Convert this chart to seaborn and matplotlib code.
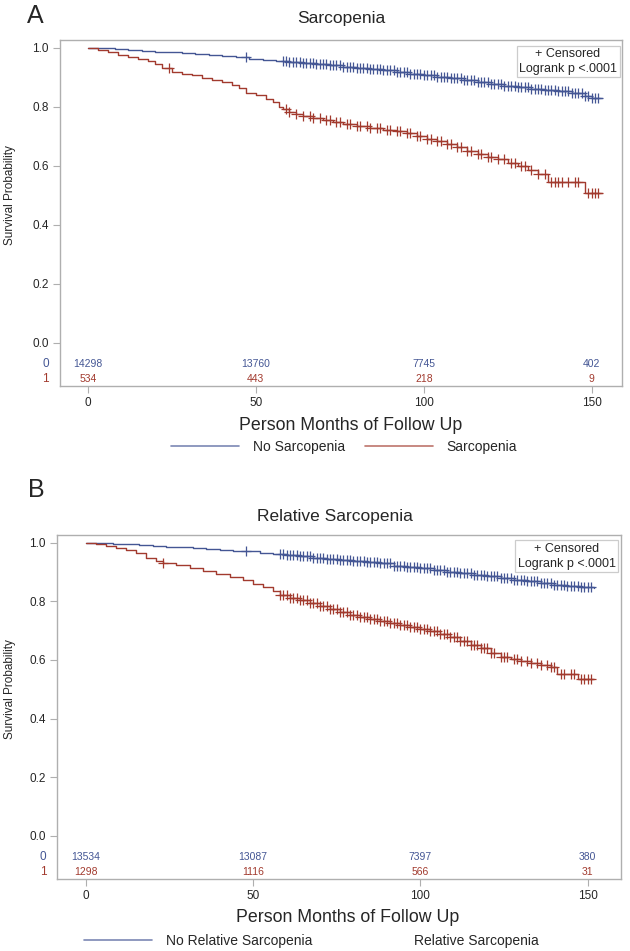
import matplotlib
matplotlib.use("Agg")
import matplotlib.pyplot as plt
import matplotlib.transforms as mtrans
from matplotlib.lines import Line2D
import numpy as np
import seaborn as sns

sns.set_style("white")
plt.rcParams["font.family"] = ["Liberation Sans", "DejaVu Sans"]

BLUE = "#445694"
RED = "#A23A2E"
EDGE = "#AFAFAF"

# ---- panel A : Sarcopenia (Kaplan-Meier steps)
a_no_t = [0, 4, 8, 12, 16, 20, 24, 28, 32, 36, 40, 44, 48, 52, 56, 60, 64, 68, 72, 76,
          80, 84, 88, 92, 96, 100, 104, 108, 112, 116, 120, 124, 128, 132, 136, 140,
          144, 148, 150, 153]
a_no_s = [1.0, 0.999, 0.996, 0.993, 0.990, 0.987, 0.984, 0.981, 0.978, 0.975, 0.971,
          0.967, 0.963, 0.959, 0.955, 0.951, 0.948, 0.944, 0.940, 0.936, 0.932, 0.928,
          0.923, 0.918, 0.912, 0.907, 0.902, 0.896, 0.890, 0.884, 0.877, 0.871, 0.866,
          0.861, 0.857, 0.853, 0.845, 0.836, 0.831, 0.831]
a_sa_t = [0, 3, 6, 9, 12, 15, 18, 20, 22, 25, 28, 31, 34, 37, 40, 43, 45, 47, 50, 53,
          55, 57, 58, 60, 62, 64, 67, 70, 73, 76, 80, 84, 88, 92, 95, 98, 101, 104, 107,
          110, 113, 116, 119, 122, 125, 128, 131, 134, 137, 148, 153]
a_sa_s = [1.0, 0.993, 0.985, 0.975, 0.968, 0.962, 0.955, 0.946, 0.932, 0.918, 0.912,
          0.907, 0.898, 0.890, 0.882, 0.872, 0.864, 0.848, 0.838, 0.826, 0.815, 0.800,
          0.792, 0.781, 0.775, 0.768, 0.762, 0.756, 0.748, 0.742, 0.735, 0.728, 0.722,
          0.716, 0.710, 0.700, 0.690, 0.684, 0.672, 0.662, 0.650, 0.640, 0.630, 0.622,
          0.610, 0.598, 0.585, 0.572, 0.545, 0.508, 0.508]
a_no_cens = [47, 58, 59, 60, 61, 62, 63, 64, 65, 66, 67, 68, 69, 70, 71, 72, 73, 74, 75,
             76, 77, 78, 79, 80, 81, 82, 83, 84, 85, 86, 87, 88, 89, 90, 91, 92, 93, 94,
             95, 96, 97, 98, 99, 100, 101, 102, 103, 104, 105, 106, 107, 108, 109, 110,
             111, 112, 113, 114, 115, 116, 117, 118, 119, 120, 121, 122, 123, 124, 125,
             126, 127, 128, 129, 130, 131, 132, 133, 134, 135, 136, 137, 138, 139, 140,
             141, 142, 143, 144, 145, 146, 147, 148, 149, 150, 151, 152]
a_sa_cens = [24, 59, 60, 62, 64, 66, 67, 69, 71, 72, 74, 75, 77, 78, 80, 81, 83, 84, 86,
             87, 89, 90, 92, 93, 95, 96, 98, 99, 101, 102, 104, 105, 107, 108, 110, 111,
             113, 114, 116, 117, 119, 120, 122, 124, 126, 127, 129, 130, 132, 134, 136,
             138, 139, 140, 141, 143, 145, 146, 149, 150, 151, 152]
a_risk_no = [14298, 13760, 7745, 402]
a_risk_sa = [534, 443, 218, 9]

# ---- panel B : Relative Sarcopenia
b_no_t = [0, 4, 8, 12, 16, 20, 24, 28, 32, 36, 40, 44, 48, 52, 56, 60, 64, 68, 72, 76,
          80, 84, 88, 92, 96, 100, 104, 108, 112, 116, 120, 124, 128, 132, 136, 140,
          144, 148, 152]
b_no_s = [1.0, 0.999, 0.997, 0.994, 0.991, 0.989, 0.986, 0.984, 0.981, 0.979, 0.976,
          0.973, 0.970, 0.966, 0.962, 0.958, 0.953, 0.949, 0.945, 0.941, 0.937, 0.933,
          0.929, 0.921, 0.917, 0.912, 0.907, 0.901, 0.896, 0.891, 0.886, 0.880, 0.874,
          0.868, 0.862, 0.857, 0.852, 0.848, 0.846]
b_sa_t = [0, 3, 6, 9, 12, 15, 18, 21, 23, 27, 31, 35, 39, 43, 47, 50, 53, 56, 58, 61,
          64, 67, 70, 73, 76, 79, 82, 85, 88, 91, 94, 97, 100, 103, 106, 109, 112, 115,
          118, 121, 124, 127, 130, 133, 136, 139, 141, 147, 152]
b_sa_s = [1.0, 0.995, 0.990, 0.982, 0.975, 0.963, 0.948, 0.938, 0.930, 0.922, 0.912,
          0.903, 0.893, 0.883, 0.872, 0.860, 0.848, 0.835, 0.822, 0.812, 0.803, 0.793,
          0.783, 0.773, 0.763, 0.754, 0.747, 0.740, 0.733, 0.726, 0.720, 0.713, 0.706,
          0.698, 0.688, 0.678, 0.665, 0.652, 0.640, 0.625, 0.610, 0.602, 0.595, 0.588,
          0.582, 0.576, 0.553, 0.536, 0.536]
b_no_cens = [48, 58, 59, 60, 61, 62, 63, 64, 65, 66, 67, 68, 69, 70, 71, 72, 73, 74, 75,
             76, 77, 78, 79, 80, 81, 82, 83, 84, 85, 86, 87, 88, 89, 90, 91, 92, 93, 94,
             95, 96, 97, 98, 99, 100, 101, 102, 103, 104, 105, 106, 107, 108, 109, 110,
             111, 112, 113, 114, 115, 116, 117, 118, 119, 120, 121, 122, 123, 124, 125,
             126, 127, 128, 129, 130, 131, 132, 133, 134, 135, 136, 137, 138, 139, 140,
             141, 142, 143, 144, 145, 146, 147, 148, 149, 150, 151]
b_sa_cens = [23, 58, 59, 60, 61, 62, 63, 64, 65, 66, 67, 68, 69, 70, 71, 72, 73, 74, 75,
             76, 77, 78, 79, 80, 81, 82, 83, 84, 85, 86, 87, 88, 89, 90, 91, 92, 93, 94,
             95, 96, 97, 98, 99, 100, 101, 102, 103, 104, 105, 106, 107, 108, 109, 110,
             111, 112, 113, 114, 115, 116, 117, 118, 119, 120, 121, 122, 124, 125, 126,
             128, 129, 130, 132, 133, 135, 136, 138, 139, 140, 142, 143, 145, 146, 148,
             149, 150, 151]
b_risk_no = [13534, 13087, 7397, 380]
b_risk_sa = [1298, 1116, 566, 31]

risk_times = [0, 50, 100, 150]
y_ticks = [0.0, 0.2, 0.4, 0.6, 0.8, 1.0]


def surv_at(t, s, when):
    # value of the step curve at the censoring times
    idx = np.searchsorted(np.asarray(t), np.asarray(when), side="right") - 1
    return np.asarray(s)[idx]


def draw_km(ax, curves, risk_rows, xlim, row_label_x):
    for t, s, cens, col in curves:
        sns.lineplot(x=t, y=s, drawstyle="steps-post", color=col, lw=1.0,
                     estimator=None, sort=False, ax=ax)
        sns.scatterplot(x=cens, y=surv_at(t, s, cens), marker="+", s=42,
                        color=col, linewidth=0.9, ax=ax, zorder=3)
    ax.set_xlim(*xlim)
    ax.set_ylim(-0.147, 1.026)
    ax.set_yticks(y_ticks)
    ax.set_yticklabels(["%.1f" % v for v in y_ticks], fontsize=8.5)
    ax.set_xticks(risk_times)
    ax.set_xticklabels([str(v) for v in risk_times], fontsize=8.5)
    ax.tick_params(axis="both", direction="out", length=5, width=0.8,
                   color=EDGE, pad=3, left=True, bottom=True)
    for sp in ax.spines.values():
        sp.set_color(EDGE)
        sp.set_linewidth(1.0)
    ax.set_xlabel("")
    ax.set_ylabel("")
    # number at risk rows inside the box
    trans = mtrans.blended_transform_factory(ax.transData, ax.transAxes)
    for (vals, col, lab), yy in zip(risk_rows, [0.063, 0.02]):
        for x, n in zip(risk_times, vals):
            ax.text(x, yy, str(n), ha="center", va="center", fontsize=7.5,
                    color=col, transform=trans)
        ax.text(row_label_x, yy, lab, ha="center", va="center", fontsize=8.5,
                color=col, transform=ax.transAxes)
    ax.text(0.904, 0.938, "+ Censored\nLogrank p <.0001", ha="center", va="center",
            fontsize=9, linespacing=1.3, transform=ax.transAxes,
            bbox=dict(boxstyle="square,pad=0.2", fc="white", ec="#CCCCCC", lw=0.9))


fig = plt.figure(figsize=(6.3, 9.51), dpi=100)
H = 951.0
W = 630.0

# panel A
axA = fig.add_axes([60 / W, 1 - 386 / H, 562 / W, 346 / H])
draw_km(axA,
        [(a_no_t, a_no_s, a_no_cens, BLUE), (a_sa_t, a_sa_s, a_sa_cens, RED)],
        [(a_risk_no, BLUE, "0"), (a_risk_sa, RED, "1")],
        (-8.3, 159.0), -0.026)
fig.text(27 / W, 1 - 16 / H, "A", fontsize=18, ha="left", va="center")
fig.text(341 / W, 1 - 19 / H, "Sarcopenia", fontsize=12.5, ha="center", va="center")
fig.text(10 / W, 1 - 195 / H, "Survival Probability", fontsize=8.5, rotation=90,
         ha="center", va="center")
fig.text(351 / W, 1 - 425 / H, "Person Months of Follow Up", fontsize=12.8,
         ha="center", va="center")
handlesA = [Line2D([], [], color=BLUE, lw=1.2, alpha=0.7),
            Line2D([], [], color=RED, lw=1.2, alpha=0.7)]
fig.legend(handlesA, ["No Sarcopenia", "Sarcopenia"], loc="center left",
           bbox_to_anchor=(171 / W, 1 - 447 / H), ncol=2, frameon=False, fontsize=10,
           handlelength=4.9, handletextpad=1.0, columnspacing=1.4, borderpad=0,
           borderaxespad=0)

# panel B
axB = fig.add_axes([57 / W, 1 - 879 / H, 564 / W, 344 / H])
draw_km(axB,
        [(b_no_t, b_no_s, b_no_cens, BLUE), (b_sa_t, b_sa_s, b_sa_cens, RED)],
        [(b_risk_no, BLUE, "0"), (b_risk_sa, RED, "1")],
        (-8.66, 160.0), -0.025)
fig.text(28 / W, 1 - 490 / H, "B", fontsize=18, ha="left", va="center")
fig.text(335 / W, 1 - 516 / H, "Relative Sarcopenia", fontsize=12.5, ha="center",
         va="center")
fig.text(10 / W, 1 - 689 / H, "Survival Probability", fontsize=8.5, rotation=90,
         ha="center", va="center")
fig.text(348 / W, 1 - 918 / H, "Person Months of Follow Up", fontsize=12.8,
         ha="center", va="center")
handlesB = [Line2D([], [], color=BLUE, lw=1.2, alpha=0.7),
            Line2D([], [], color=RED, lw=1.2, alpha=0.0)]
fig.legend(handlesB, ["No Relative Sarcopenia", "Relative Sarcopenia"],
           loc="center left", bbox_to_anchor=(84 / W, 1 - 941 / H), ncol=2,
           frameon=False, fontsize=10, handlelength=4.9, handletextpad=1.0,
           columnspacing=1.4, borderpad=0, borderaxespad=0)

fig.savefig("out.png", dpi=100)
